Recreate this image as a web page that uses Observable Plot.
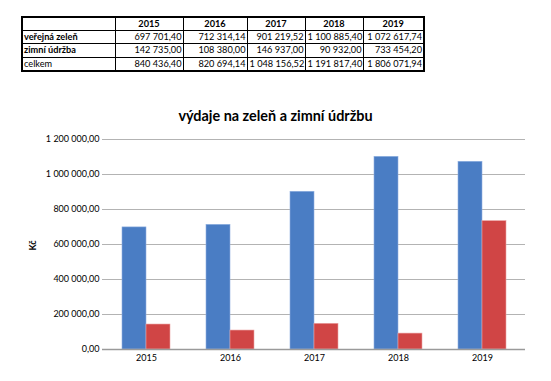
<!DOCTYPE html>
<html><head><meta charset="utf-8">
<script src="https://cdn.jsdelivr.net/npm/d3@7"></script>
<script src="https://cdn.jsdelivr.net/npm/@observablehq/plot@0.6"></script>
<style>
body{margin:0;background:#fff;font-family:Lato,"Liberation Sans",sans-serif;}
#wrap{position:relative;width:551px;height:381px;overflow:hidden;}
#tbl{position:absolute;left:21px;top:16px;border-collapse:collapse;table-layout:fixed;width:404px;font-size:9.2px;color:#000;border:2px solid #000;}
#tbl td,#tbl th{border:1px solid #000;padding:0 2px;height:13.3px;line-height:12px;white-space:nowrap;overflow:visible;box-sizing:border-box;}
#tbl th{font-weight:bold;text-align:center;}
#tbl td.num{text-align:right;padding-right:1px;}
#tbl td.lab{text-align:left;padding-left:1px;}
#title{position:absolute;left:0;width:551px;top:107px;text-align:center;font-weight:bold;font-size:14.4px;color:#000;}
#chart{position:absolute;left:0;top:0;}
#ylab{position:absolute;left:27px;top:240px;font-size:9px;font-weight:bold;transform:rotate(-90deg);}
</style></head>
<body><div id="wrap">
<table id="tbl"></table>
<div id="title">výdaje na zeleň a zimní údržbu</div>
<div id="chart"></div>
<div id="ylab">Kč</div>
</div>
<script>
const years = ["2015","2016","2017","2018","2019"];
const rowLabels = ["veřejná zeleň","zimní údržba","celkem"];
const verejnaZelen = [697701.40, 712314.14, 901219.52, 1100885.40, 1072617.74];
const zimniUdrzba = [142735.00, 108380.00, 146937.00, 90932.00, 733454.20];
const celkem = [840436.40, 820694.14, 1048156.52, 1191817.40, 1806071.94];
const yTicks = [0, 200000, 400000, 600000, 800000, 1000000, 1200000];

const fmt = v => {
  const [i, d] = v.toFixed(2).split(".");
  return i.replace(/\B(?=(\d{3})+(?!\d))/g, "\u00a0") + "," + d;
};

// table
const colW = [93, 68, 64, 58, 58, 61];
const tbl = document.getElementById("tbl");
let h = "<colgroup>" + colW.map(w => "<col style='width:" + w + "px'>").join("") + "</colgroup>";
h += "<tr><th></th>" + years.map(y => "<th>" + y + "</th>").join("") + "</tr>";
[verejnaZelen, zimniUdrzba, celkem].forEach((row, r) => {
  h += "<tr><td class='lab' style='font-weight:" + (r < 2 ? "bold" : "normal") + "'>" + rowLabels[r] + "</td>" +
    row.map(v => "<td class='num'>" + fmt(v) + "</td>").join("") + "</tr>";
});
tbl.innerHTML = h;

const data = [];
years.forEach((y, i) => {
  data.push({year: y, series: "veřejná zeleň", value: verejnaZelen[i]});
  data.push({year: y, series: "zimní údržba", value: zimniUdrzba[i]});
});

const chart = Plot.plot({
  width: 551,
  height: 381,
  marginTop: 139,
  marginBottom: 32,
  marginLeft: 102,
  marginRight: 26,
  style: {fontFamily: "Lato, sans-serif", fontSize: "9px", color: "#000", background: "transparent"},
  x: {domain: years, paddingInner: 0.716, paddingOuter: 0.358, label: null, tickSize: 0, tickPadding: 5},
  y: {domain: [0, 1200000], ticks: yTicks, tickFormat: fmt, label: null, tickSize: 0, tickPadding: 3},
  marks: [
    Plot.ruleY(yTicks, {stroke: "#b3b3b3", strokeWidth: 1.2}),
    Plot.barY(data.filter(d => d.series === "veřejná zeleň"), {x: "year", y: "value", dx: -12, fill: "#4a7dc4", stroke: "#8fb0e0", strokeWidth: 0.6}),
    Plot.barY(data.filter(d => d.series === "zimní údržba"), {x: "year", y: "value", dx: 12, fill: "#d04545", stroke: "#eba3a3", strokeWidth: 0.6}),
    Plot.ruleX([0], {x: () => 0, frameAnchor: "left", stroke: "#b3b3b3", strokeWidth: 1.2}),
    Plot.ruleY([0], {stroke: "#9a9a9a", strokeWidth: 1.4})
  ]
});
document.getElementById("chart").appendChild(chart);
</script>
</body></html>
